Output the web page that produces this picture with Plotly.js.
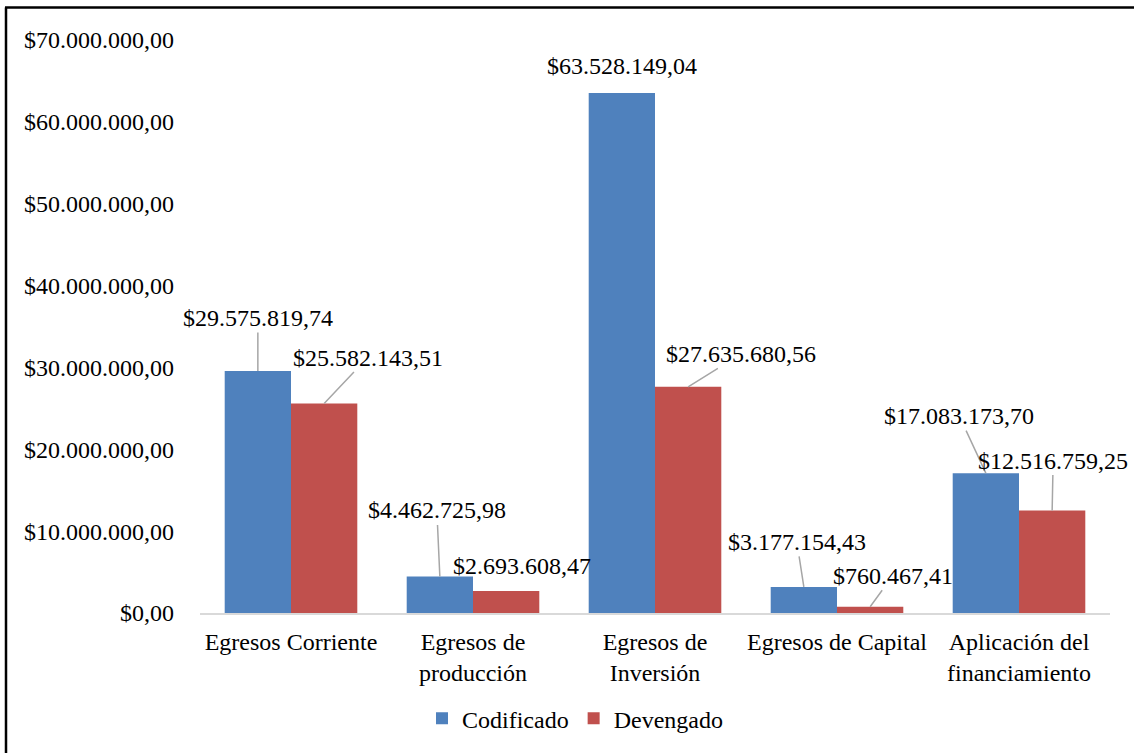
<!DOCTYPE html>
<html>
<head>
<meta charset="utf-8">
<script src="https://cdn.plot.ly/plotly-3.0.1.min.js"></script>
<style>
  html, body { margin: 0; padding: 0; background: #fff; }
  #chart { width: 1134px; height: 753px; }
</style>
</head>
<body>
<div id="chart"></div>
<script>
// ---- Data ----
const categories = [
  "Egresos Corriente",
  "Egresos de<br>producción",
  "Egresos de<br>Inversión",
  "Egresos de Capital",
  "Aplicación del<br>financiamiento"
];
const codificado = [29575819.74, 4462725.98, 63528149.04, 3177154.43, 17083173.70];
const devengado  = [25582143.51, 2693608.47, 27635680.56, 760467.41, 12516759.25];
const seriesNames = ["Codificado", "Devengado"];
const yTickVals = [0, 10000000, 20000000, 30000000, 40000000, 50000000, 60000000, 70000000];
const yTickText = ["$0,00", "$10.000.000,00", "$20.000.000,00", "$30.000.000,00",
                   "$40.000.000,00", "$50.000.000,00", "$60.000.000,00", "$70.000.000,00"];

// ---- Styles ----
const BLUE = "#4F81BD";
const RED = "#C0504D";
const FONT = "'Liberation Serif', 'Times New Roman', serif";
const FS = 24;

function fmt(v) {
  const parts = v.toFixed(2).split(".");
  const intPart = parts[0].replace(/\B(?=(\d{3})+(?!\d))/g, ".");
  return "$" + intPart + "," + parts[1];
}

const traces = [
  { type: "bar", name: seriesNames[0], x: categories, y: codificado,
    marker: { color: BLUE } },
  { type: "bar", name: seriesNames[1], x: categories, y: devengado,
    marker: { color: RED } }
];

// label offsets (pixels): [ax, ay, showLine]
const barShift = 33.15;
const codOffsets = [[0, -53, true], [-3, -66, true], [0, -27, false], [-7, -45, true], [-26.5, -57, true]];
const devOffsets = [[43.5, -46, true], [15.5, -25, false], [53, -33, true], [22.6, -31, true], [1, -50, true]];

const annotations = [];
function addLabels(vals, offs, shift) {
  vals.forEach((v, i) => {
    const o = offs[i];
    annotations.push({
      x: categories[i], y: v, xref: "x", yref: "y",
      xshift: shift,
      text: fmt(v),
      showarrow: true,
      arrowhead: 0,
      arrowwidth: 1.5,
      arrowcolor: o[2] ? "#A6A6A6" : "rgba(0,0,0,0)",
      ax: o[0], ay: o[1],
      standoff: 0,
      font: { family: FONT, size: FS, color: "#000" }
    });
  });
}
addLabels(codificado, codOffsets, -barShift);
addLabels(devengado, devOffsets, barShift);

const L = 200, R = 1110, T = 40, B = 615;
const W = R - L, H = B - T;
const px = (x) => (x - L) / W;
const py = (y) => (B - y) / H;

const layout = {
  width: 1134, height: 753,
  margin: { l: L, r: 1134 - R, t: T, b: 753 - B },
  paper_bgcolor: "#fff", plot_bgcolor: "#fff",
  font: { family: FONT, size: FS, color: "#000" },
  barmode: "group",
  bargap: 0.2714,
  bargroupgap: 0,
  showlegend: true,
  legend: {
    orientation: "h",
    x: px(575), xanchor: "center",
    y: py(721), yanchor: "middle",
    font: { family: FONT, size: FS, color: "#000" },
    itemwidth: 30,
    traceorder: "normal"
  },
  xaxis: {
    type: "category",
    range: [-0.5, 4.5], autorange: false,
    automargin: false,
    showgrid: false, zeroline: false,
    showline: true, linecolor: "#D9D9D9", linewidth: 2,
    ticks: "", ticklabelstandoff: 6,
    tickfont: { family: FONT, size: FS, color: "#000" },
    fixedrange: true
  },
  yaxis: {
    range: [0, 70000000], autorange: false,
    automargin: false,
    tickvals: yTickVals, ticktext: yTickText,
    showgrid: false, zeroline: false, showline: false,
    ticks: "", ticklabelstandoff: 25,
    tickfont: { family: FONT, size: FS, color: "#000" },
    fixedrange: true
  },
  annotations: annotations,
  shapes: [
    { type: "line", xref: "paper", yref: "paper",
      x0: px(5), x1: px(1140), y0: py(7.5), y1: py(7.5),
      line: { color: "#000", width: 2.5 } },
    { type: "line", xref: "paper", yref: "paper",
      x0: px(6), x1: px(6), y0: py(7.5), y1: py(760),
      line: { color: "#000", width: 2.5 } }
  ]
};

Plotly.newPlot("chart", traces, layout, { displayModeBar: false, staticPlot: true });
</script>
</body>
</html>
